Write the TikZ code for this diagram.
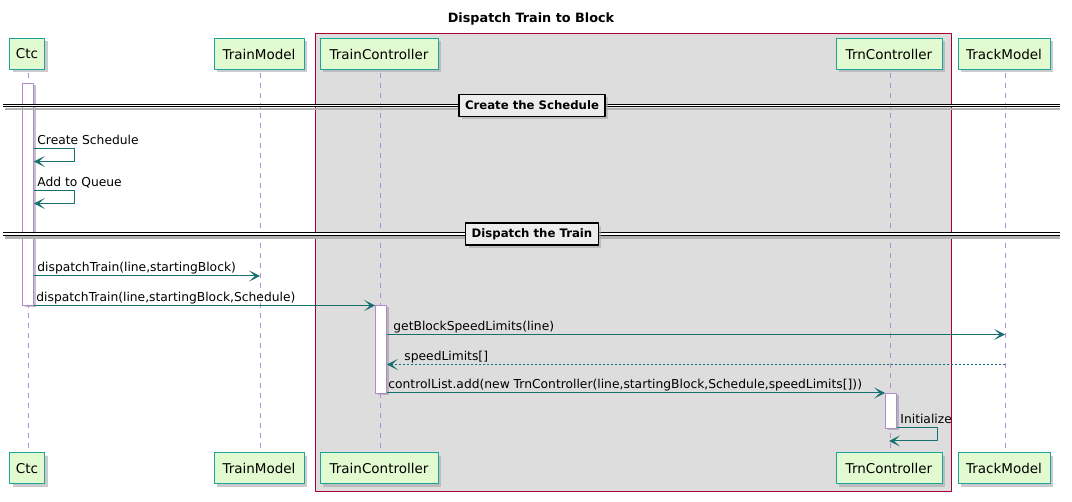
\documentclass[tikz,border=0pt]{standalone}
\usepackage{fontspec}
\setmainfont{DejaVu Sans}
\usetikzlibrary{arrows.meta, shadows}

\definecolor{actorfill}{HTML}{E2FAD0}
\definecolor{actorline}{HTML}{1DA39B}
\definecolor{msgline}{HTML}{16706E}
\definecolor{lifecol}{HTML}{B48AD8}
\definecolor{actline}{HTML}{B08AD0}
\definecolor{grpline}{HTML}{A80036}
\definecolor{grpfill}{HTML}{DDDDDD}

\begin{document}
\begin{tikzpicture}[x=1pt, y=-1pt, line join=round,
    participant/.style={draw=actorline, fill=actorfill, line width=1pt, minimum height=31pt, inner xsep=4pt,
        font=\fontsize{13.5}{16}\selectfont, drop shadow={shadow xshift=3pt, shadow yshift=-3pt, fill=black!35, opacity=.6}},
    activation/.style={draw=actline, fill=white, line width=0.8pt, minimum width=11pt, inner sep=0pt,
        drop shadow={shadow xshift=2.5pt, shadow yshift=-2.5pt, fill=black!40, opacity=.6}},
    lifeline/.style={draw=lifecol, dash pattern=on 5pt off 5pt, line width=0.8pt},
    msg/.style={draw=msgline, line width=1pt, -{Stealth[length=11pt, width=11pt, inset=6pt, line width=0.8pt]}},
    reply/.style={msg, dash pattern=on 2pt off 2pt},
    msglabel/.style={anchor=base west, inner sep=0pt, font=\fontsize{12.3}{14}\selectfont, xshift=3pt, yshift=4pt},
    divider/.style={draw=black, double=white, double distance=1.4pt, line width=1pt},
    dividerlabel/.style={draw=black, line width=1.5pt, fill=black!7, inner xsep=6pt, minimum height=22pt,
        font=\bfseries\fontsize{11.7}{14}\selectfont, drop shadow={shadow xshift=3pt, shadow yshift=-3pt, fill=black!35, opacity=.6}}]
    \useasboundingbox (0,0) rectangle (1072,502);

    \node[font=\bfseries\fontsize{12.8}{15}\selectfont] (title) at (531,19) {Dispatch Train to Block};

    % box round the two controllers
    \draw[grpline, fill=grpfill, line width=1pt] (315,34) rectangle (951,492);

    % participants, top and bottom
    \node[participant, minimum width=35] (ctc) at (27,54) {Ctc};
    \node[participant, minimum width=90] (tm) at (259,54) {TrainModel};
    \node[participant, minimum width=118] (tc) at (379,54) {TrainController};
    \node[participant, minimum width=106] (trn) at (889,54) {TrnController};
    \node[participant, minimum width=92] (track) at (1004,54) {TrackModel};
    \node[participant, minimum width=35] (ctc-b) at (27,468.5) {Ctc};
    \node[participant, minimum width=90] (tm-b) at (259,468.5) {TrainModel};
    \node[participant, minimum width=118] (tc-b) at (379,468.5) {TrainController};
    \node[participant, minimum width=106] (trn-b) at (889,468.5) {TrnController};
    \node[participant, minimum width=92] (track-b) at (1004,468.5) {TrackModel};

    \foreach \p in {ctc,tm,tc,trn,track}
        \draw[lifeline] ([xshift=1pt, yshift=-3pt]\p.south) -- ([xshift=1pt, yshift=4pt]\p-b.north);

    % activations
    \node[activation, minimum height=222] (act-ctc) at (28,194) {};
    \node[activation, minimum height=88] (act-tc) at (381,349) {};
    \node[activation, minimum height=35] (act-trn) at (891,410.5) {};

    % dividers
    \coordinate (div1) at (0,105.5);
    \coordinate (div2) at (0,234);
    \foreach \d in {div1,div2} {
        \draw[black!30, line width=2.5pt] ([xshift=5pt, yshift=-3.5pt]\d) -- ++(1055,0);
        \draw[divider] ([xshift=3pt]\d) -- ++(1057,0);
    }
    \node[dividerlabel] (lbl1) at (532,105.5) {Create the Schedule};
    \node[dividerlabel] (lbl2) at (532,234) {Dispatch the Train};

    % messages
    \coordinate (m1) at (0,148.5);
    \coordinate (m2) at (0,190.5);
    \coordinate (m3) at (0,276);
    \coordinate (m4) at (0,305.5);
    \coordinate (m5) at (0,334.5);
    \coordinate (m6) at (0,364.5);
    \coordinate (m7) at (0,393);
    \coordinate (m8) at (0,428);
    \draw[msg] (act-ctc.east |- m1) node[msglabel] {Create Schedule} -- ++(41,0) -- ++(0,13) -- ([yshift=-13pt]act-ctc.east |- m1);
    \draw[msg] (act-ctc.east |- m2) node[msglabel] {Add to Queue} -- ++(41,0) -- ++(0,13) -- ([yshift=-13pt]act-ctc.east |- m2);
    \draw[msg] (act-ctc.east |- m3) node[msglabel] {dispatchTrain(line,startingBlock)} -- ([xshift=1pt]tm.center |- m3);
    \draw[msg] (act-ctc.east |- m4) node[msglabel, xshift=-1pt] {dispatchTrain(line,startingBlock,Schedule)} -- (act-tc.west |- m4);
    \draw[msg] (act-tc.east |- m5) node[msglabel, xshift=3pt] {getBlockSpeedLimits(line)} -- ([xshift=1pt]track.center |- m5);
    \draw[reply] ([xshift=1pt]track.center |- m6) -- (act-tc.east |- m6) node[msglabel, xshift=14pt] {speedLimits[]};
    \draw[msg] (act-tc.east |- m7) node[msglabel, xshift=-2pt] {controlList.add(new TrnController(line,startingBlock,Schedule,speedLimits[]))} -- (act-trn.west |- m7);
    \draw[msg] (act-trn.east |- m8) node[msglabel] {Initialize} -- ++(41,0) -- ++(0,13) -- ([yshift=-13pt]trn.center |- m8);
\end{tikzpicture}
\end{document}
